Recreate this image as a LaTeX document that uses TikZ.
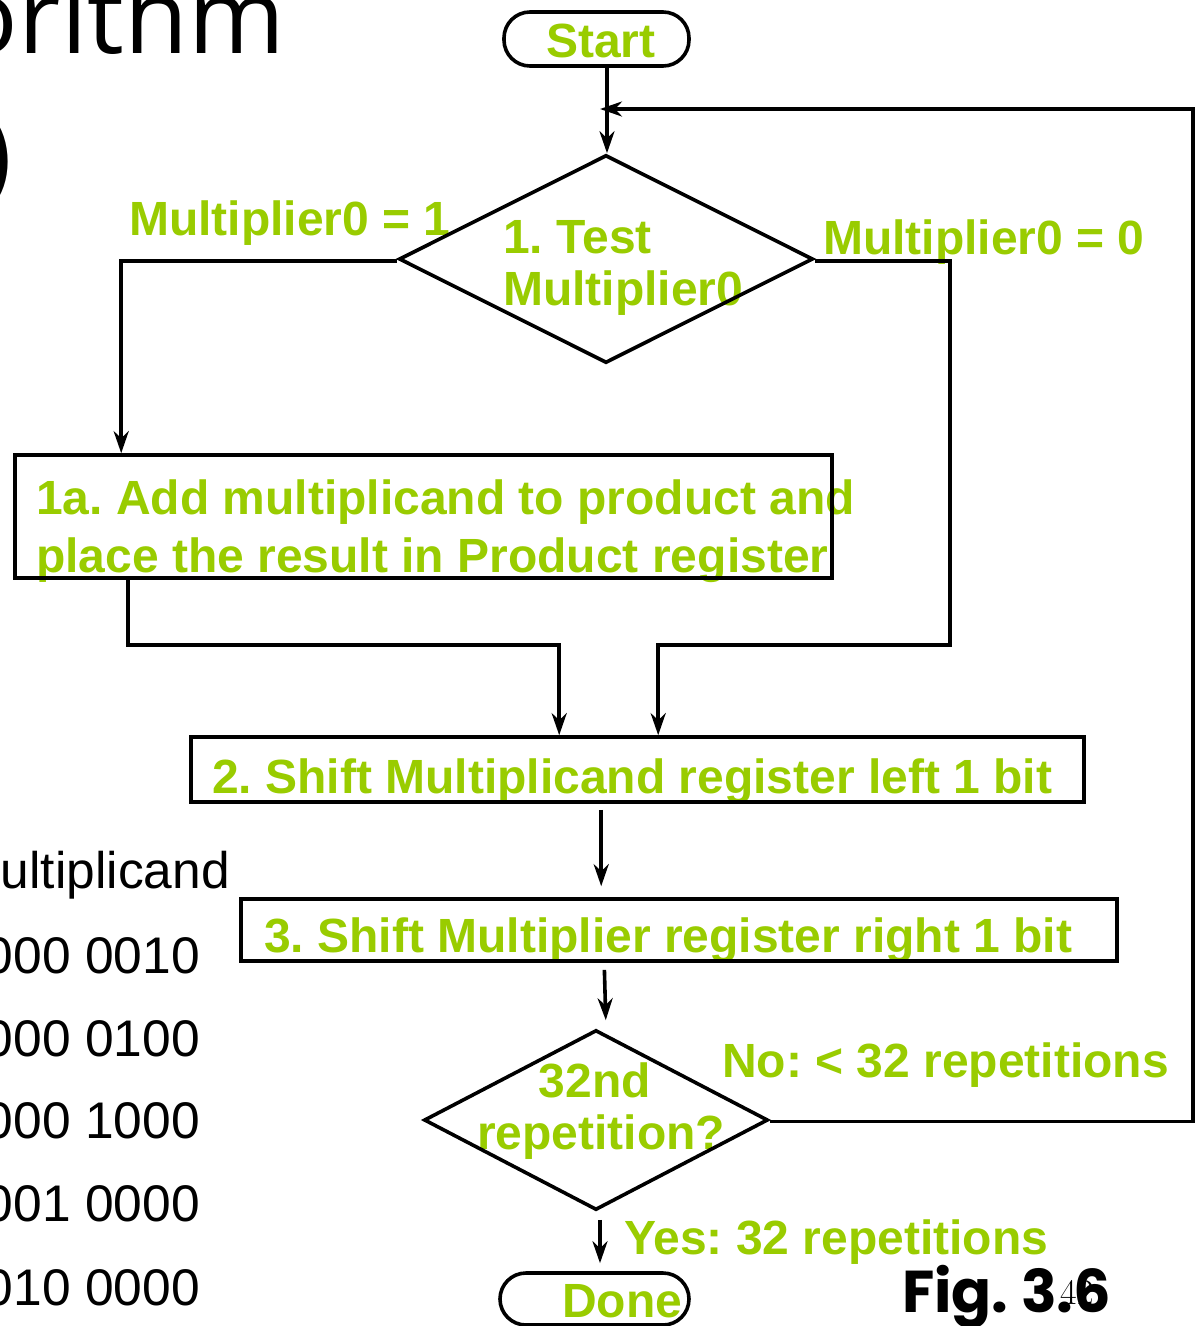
\documentclass[tikz,border=0pt]{standalone}
\usepackage{fontspec}
\usetikzlibrary{shapes.geometric,arrows.meta}
\newfontfamily\arialfont{Liberation Sans}
\newfontfamily\titlefont{Open Sans}
\newfontfamily\figfont{Poppins}
\definecolor{stepgreen}{RGB}{153,204,0}
\frenchspacing

\tikzset{
  flow/.style={draw=black, line width=3.6pt, inner sep=0pt},
  procbox/.style={flow, rectangle},
  termbox/.style={flow, rectangle, rounded corners=26pt},
  decision/.style={flow, diamond},
  wire/.style={line width=3.6pt, draw=black},
  arr/.style={wire, -{Stealth[length=22pt,width=15pt,inset=7pt]}},
  gtext/.style={text=stepgreen, inner sep=0pt, anchor=base west,
    font=\arialfont\bfseries\fontsize{48}{52}\selectfont},
  btext/.style={text=black, inner sep=0pt, anchor=base east,
    font=\arialfont\fontsize{51.5}{58}\selectfont},
}

\begin{document}
\begin{tikzpicture}[x=1pt,y=-1pt]
\useasboundingbox (0,0) rectangle (1196,1326);
\fill[white] (0,0) rectangle (1196,1326);
\clip (0,0) rectangle (1196,1326);

% slide title and multiplicand column behind the chart
\node[inner sep=0pt, anchor=base east, font=\titlefont\fontsize{104}{116}\selectfont] (title) at (285,53) {Algorithm};
\node[inner sep=0pt, anchor=base west, font=\titlefont\fontsize{104}{116}\selectfont] (paren) at (-19,190) {)};
\node[btext] (mcand) at (230,888) {Multiplicand};
\node[btext] (m1) at (200,973) {0000 0010};
\node[btext] (m2) at (200,1056) {0000 0100};
\node[btext] (m3) at (200,1138) {0000 1000};
\node[btext] (m4) at (200,1221) {0001 0000};
\node[btext] (m5) at (200,1305) {0010 0000};

% step texts, set under the outlines
\node[gtext] (tstart) at (546,57) {Start};
\node[gtext] (t1a) at (503,253) {1. Test};
\node[gtext] (t1b) at (503,305) {Multiplier0};
\node[gtext] (lone) at (129,235) {Multiplier0 = 1};
\node[gtext] (lzero) at (823,254) {Multiplier0 = 0};
\node[gtext] (tadd1) at (36,514) {1a. Add multiplicand to product and};
\node[gtext] (tadd2) at (36,572) {place the result in Product register};
\node[gtext] (tshl) at (212,793) {2. Shift Multiplicand register left 1 bit};
\node[gtext] (tshr) at (264,952) {3. Shift Multiplier register right 1 bit};
\node[gtext, anchor=base] (t2a) at (595,1097) {32nd};
\node[gtext, anchor=base] (t2b) at (601,1149) {repetition?};
\node[gtext] (lno) at (722,1077) {No: < 32 repetitions};
\node[gtext] (lyes) at (624,1254) {Yes: 32 repetitions};
\node[gtext] (tdone) at (562,1317) {Done};

% flowchart outlines
\node[termbox, minimum width=185pt, minimum height=54pt] (start) at (596.5,39) {};
\node[decision, minimum width=414pt, minimum height=208pt] (d1) at (606,259) {};
\node[procbox, minimum width=817pt, minimum height=123pt] (add) at (423.5,516.5) {};
\node[procbox, minimum width=893pt, minimum height=65pt] (shl) at (637.5,769.5) {};
\node[procbox, minimum width=876pt, minimum height=62pt] (shr) at (679,930) {};
\node[decision, minimum width=344pt, minimum height=180pt] (d2) at (596,1120) {};
\node[termbox, minimum width=189pt, minimum height=52pt] (done) at (594.5,1299) {};

% connectors
\coordinate (merge) at (607,109);
\draw[wire] (start.south -| merge) -- (merge);
\draw[arr] (merge) -- (d1.north -| merge);
\draw[arr] ([yshift=-1.5pt]d2.east) -| (1193,109) -- ([xshift=-7pt]merge);
\draw[arr] ([yshift=-2pt]d1.west) -| ([xshift=108pt]add.north west);
\draw[arr] ([yshift=-2pt]d1.east) -| (950,645) -| ([xshift=469pt]shl.north west);
\draw[arr] ([xshift=115pt]add.south west) -- ++(0,65) -| ([xshift=370pt]shl.north west);
\draw[arr, shorten <=6pt, shorten >=11pt] ([xshift=412pt]shl.south west) -- ([xshift=362pt]shr.north west);
\draw[arr, shorten <=7pt, shorten >=8pt] ([xshift=365pt]shr.south west) -- ([xshift=10pt]d2.north);
\draw[arr, shorten <=8pt, shorten >=8pt] ([xshift=4pt]d2.south) -- ([xshift=5.5pt]done.north);

% figure caption and page number
\node[inner sep=0pt, anchor=base west, font=\figfont\bfseries\fontsize{59}{66}\selectfont] (fig) at (902,1312) {Fig. 3.6};
\node[inner sep=0pt, font=\rmfamily\fontsize{36}{40}\selectfont] (pnum) at (1077,1292) {42};
\end{tikzpicture}
\end{document}
